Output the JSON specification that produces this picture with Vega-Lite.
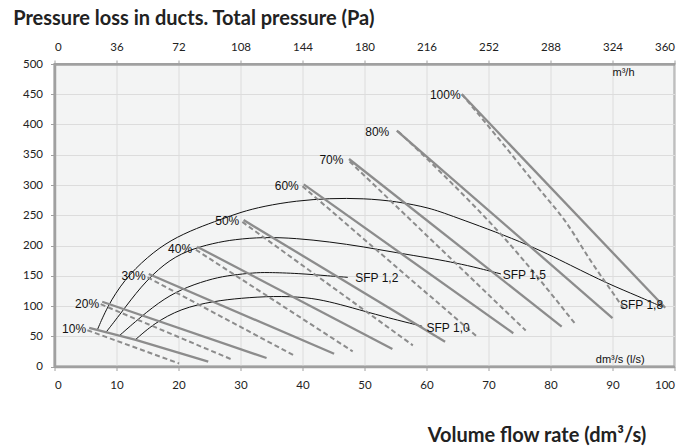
{
  "$schema": "https://vega.github.io/schema/vega-lite/v6.json",
  "width": 620,
  "height": 302.5,
  "autosize": "none",
  "padding": {"left": 54.5, "top": 64, "right": 24.5, "bottom": 79.5},
  "background": "white",
  "config": {
    "view": {"fill": "#f3f4f4", "stroke": "#a0a0a0", "strokeWidth": 2},
    "axis": {
      "domainColor": "#a0a0a0", "domainWidth": 2.5,
      "tickColor": "#a0a0a0", "tickSize": 4,
      "labelFont": "Lato", "labelFontSize": 11.5, "labelColor": "#222",
      "gridColor": "#dcdcdc", "gridWidth": 1,
      "titleFont": "Lato", "titleFontWeight": "bold", "titleColor": "#222"
    }
  },
  "datasets": {
    "lines": [
      {"s": "10%", "k": "solid", "x": 5.6, "y": 64}, {"s": "10%", "k": "solid", "x": 13.1, "y": 44}, {"s": "10%", "k": "solid", "x": 24.8, "y": 8},
      {"s": "20%", "k": "solid", "x": 7.7, "y": 107}, {"s": "20%", "k": "solid", "x": 34.2, "y": 14},
      {"s": "30%", "k": "solid", "x": 15.2, "y": 153}, {"s": "30%", "k": "solid", "x": 45.1, "y": 21},
      {"s": "40%", "k": "solid", "x": 23.0, "y": 198}, {"s": "40%", "k": "solid", "x": 54.5, "y": 29},
      {"s": "50%", "k": "solid", "x": 30.5, "y": 242}, {"s": "50%", "k": "solid", "x": 63.0, "y": 41},
      {"s": "60%", "k": "solid", "x": 40.2, "y": 301}, {"s": "60%", "k": "solid", "x": 74.0, "y": 55},
      {"s": "70%", "k": "solid", "x": 47.5, "y": 343}, {"s": "70%", "k": "solid", "x": 81.8, "y": 66},
      {"s": "80%", "k": "solid", "x": 55.2, "y": 390}, {"s": "80%", "k": "solid", "x": 90.0, "y": 80},
      {"s": "100%", "k": "solid", "x": 65.7, "y": 450}, {"s": "100%", "k": "solid", "x": 98.5, "y": 97},
      {"s": "10%", "k": "dash", "x": 5.3, "y": 60}, {"s": "10%", "k": "dash", "x": 20.1, "y": 5},
      {"s": "20%", "k": "dash", "x": 7.45, "y": 103}, {"s": "20%", "k": "dash", "x": 28.5, "y": 12},
      {"s": "30%", "k": "dash", "x": 15.0, "y": 147.5}, {"s": "30%", "k": "dash", "x": 38.5, "y": 19},
      {"s": "40%", "k": "dash", "x": 22.8, "y": 193}, {"s": "40%", "k": "dash", "x": 48.1, "y": 25},
      {"s": "50%", "k": "dash", "x": 30.3, "y": 239}, {"s": "50%", "k": "dash", "x": 57.8, "y": 35},
      {"s": "60%", "k": "dash", "x": 40.0, "y": 298}, {"s": "60%", "k": "dash", "x": 68.1, "y": 50},
      {"s": "70%", "k": "dash", "x": 47.6, "y": 339}, {"s": "70%", "k": "dash", "x": 76.0, "y": 59.5},
      {"s": "80%", "k": "dash", "x": 55.4, "y": 389}, {"s": "80%", "k": "dash", "x": 62.2, "y": 322}, {"s": "80%", "k": "dash", "x": 73.0, "y": 207}, {"s": "80%", "k": "dash", "x": 83.9, "y": 71.5},
      {"s": "100%", "k": "dash", "x": 65.7, "y": 450}, {"s": "100%", "k": "dash", "x": 72.0, "y": 372}, {"s": "100%", "k": "dash", "x": 78.3, "y": 292}, {"s": "100%", "k": "dash", "x": 82.6, "y": 237}, {"s": "100%", "k": "dash", "x": 86.4, "y": 176}, {"s": "100%", "k": "dash", "x": 90.1, "y": 121}, {"s": "100%", "k": "dash", "x": 92.0, "y": 93},
      {"s": "SFP 1,8", "k": "sfp", "x": 6.9, "y": 60.3}, {"s": "SFP 1,8", "k": "sfp", "x": 8.5, "y": 98.8}, {"s": "SFP 1,8", "k": "sfp", "x": 11.2, "y": 143}, {"s": "SFP 1,8", "k": "sfp", "x": 15.0, "y": 181.5}, {"s": "SFP 1,8", "k": "sfp", "x": 18.7, "y": 209}, {"s": "SFP 1,8", "k": "sfp", "x": 23.0, "y": 229}, {"s": "SFP 1,8", "k": "sfp", "x": 26.8, "y": 243}, {"s": "SFP 1,8", "k": "sfp", "x": 30.0, "y": 255}, {"s": "SFP 1,8", "k": "sfp", "x": 33.7, "y": 265}, {"s": "SFP 1,8", "k": "sfp", "x": 39.0, "y": 274}, {"s": "SFP 1,8", "k": "sfp", "x": 44.4, "y": 278}, {"s": "SFP 1,8", "k": "sfp", "x": 49.8, "y": 278}, {"s": "SFP 1,8", "k": "sfp", "x": 55.2, "y": 273}, {"s": "SFP 1,8", "k": "sfp", "x": 60.6, "y": 262}, {"s": "SFP 1,8", "k": "sfp", "x": 63.8, "y": 250}, {"s": "SFP 1,8", "k": "sfp", "x": 75.6, "y": 206}, {"s": "SFP 1,8", "k": "sfp", "x": 83.7, "y": 165}, {"s": "SFP 1,8", "k": "sfp", "x": 89.1, "y": 137.5}, {"s": "SFP 1,8", "k": "sfp", "x": 94.4, "y": 115}, {"s": "SFP 1,8", "k": "sfp", "x": 97.9, "y": 99},
      {"s": "SFP 1,5", "k": "sfp", "x": 8.3, "y": 56.5}, {"s": "SFP 1,5", "k": "sfp", "x": 10.7, "y": 88}, {"s": "SFP 1,5", "k": "sfp", "x": 13.9, "y": 132}, {"s": "SFP 1,5", "k": "sfp", "x": 17.7, "y": 170.6}, {"s": "SFP 1,5", "k": "sfp", "x": 21.4, "y": 192}, {"s": "SFP 1,5", "k": "sfp", "x": 25.7, "y": 204}, {"s": "SFP 1,5", "k": "sfp", "x": 29.0, "y": 210}, {"s": "SFP 1,5", "k": "sfp", "x": 33.7, "y": 214}, {"s": "SFP 1,5", "k": "sfp", "x": 39.0, "y": 212}, {"s": "SFP 1,5", "k": "sfp", "x": 44.4, "y": 206}, {"s": "SFP 1,5", "k": "sfp", "x": 49.8, "y": 198}, {"s": "SFP 1,5", "k": "sfp", "x": 55.2, "y": 188}, {"s": "SFP 1,5", "k": "sfp", "x": 60.6, "y": 179}, {"s": "SFP 1,5", "k": "sfp", "x": 63.8, "y": 173}, {"s": "SFP 1,5", "k": "sfp", "x": 67.5, "y": 165}, {"s": "SFP 1,5", "k": "sfp", "x": 72.0, "y": 153},
      {"s": "SFP 1,2", "k": "sfp", "x": 10.4, "y": 50.4}, {"s": "SFP 1,2", "k": "sfp", "x": 13.9, "y": 82}, {"s": "SFP 1,2", "k": "sfp", "x": 17.7, "y": 112.7}, {"s": "SFP 1,2", "k": "sfp", "x": 21.4, "y": 132}, {"s": "SFP 1,2", "k": "sfp", "x": 25.7, "y": 146}, {"s": "SFP 1,2", "k": "sfp", "x": 28.5, "y": 151}, {"s": "SFP 1,2", "k": "sfp", "x": 32.2, "y": 155}, {"s": "SFP 1,2", "k": "sfp", "x": 34.2, "y": 155.6}, {"s": "SFP 1,2", "k": "sfp", "x": 39.3, "y": 154}, {"s": "SFP 1,2", "k": "sfp", "x": 44.4, "y": 149.6}, {"s": "SFP 1,2", "k": "sfp", "x": 47.3, "y": 147.4},
      {"s": "SFP 1,0", "k": "sfp", "x": 13.0, "y": 43.8}, {"s": "SFP 1,0", "k": "sfp", "x": 16.0, "y": 71}, {"s": "SFP 1,0", "k": "sfp", "x": 20.4, "y": 96}, {"s": "SFP 1,0", "k": "sfp", "x": 25.7, "y": 108}, {"s": "SFP 1,0", "k": "sfp", "x": 30.0, "y": 113}, {"s": "SFP 1,0", "k": "sfp", "x": 35.3, "y": 116.5}, {"s": "SFP 1,0", "k": "sfp", "x": 40.7, "y": 114.6}, {"s": "SFP 1,0", "k": "sfp", "x": 44.4, "y": 107}, {"s": "SFP 1,0", "k": "sfp", "x": 47.7, "y": 98}, {"s": "SFP 1,0", "k": "sfp", "x": 53.0, "y": 82.6}, {"s": "SFP 1,0", "k": "sfp", "x": 59.3, "y": 66.5}
    ],
    "labels": [
      {"t": "10%", "k": "pct", "x": 5.1, "y": 61.5},
      {"t": "20%", "k": "pct", "x": 7.2, "y": 104},
      {"t": "30%", "k": "pct", "x": 14.7, "y": 149},
      {"t": "40%", "k": "pct", "x": 22.2, "y": 195},
      {"t": "50%", "k": "pct", "x": 29.8, "y": 240},
      {"t": "60%", "k": "pct", "x": 39.4, "y": 299},
      {"t": "70%", "k": "pct", "x": 46.6, "y": 341},
      {"t": "80%", "k": "pct", "x": 54.0, "y": 388},
      {"t": "100%", "k": "pct", "x": 65.5, "y": 449},
      {"t": "SFP 1,2", "k": "sfp", "x": 48.5, "y": 147},
      {"t": "SFP 1,0", "k": "sfp", "x": 60.0, "y": 63},
      {"t": "SFP 1,5", "k": "sfp", "x": 72.3, "y": 151},
      {"t": "SFP 1,8", "k": "sfp", "x": 91.2, "y": 101},
      {"t": "m³/h", "k": "unit", "x": 90.0, "y": 485},
      {"t": "dm³/s (l/s)", "k": "unit", "x": 87.3, "y": 10.7}
    ]
  },
  "encoding": {
    "y": {"field": "y", "type": "quantitative", "scale": {"domain": [0, 500], "nice": false},
      "axis": {"values": [0, 50, 100, 150, 200, 250, 300, 350, 400, 450, 500], "grid": true, "labelPadding": 8,
        "title": "Pressure loss in ducts. Total pressure (Pa)", "titleFontSize": 20, "titleAngle": 0, "titleAlign": "left", "titleBaseline": "middle", "titleX": -41.8, "titleY": -46}}
  },
  "layer": [
    {
      "data": {"name": "lines"},
      "transform": [{"filter": "datum.k === 'sfp'"}],
      "mark": {"type": "line", "color": "#111", "strokeWidth": 1, "interpolate": "basis"},
      "encoding": {
        "x": {"field": "x", "type": "quantitative", "scale": {"domain": [0, 100], "nice": false},
          "axis": {"orient": "bottom", "values": [0, 10, 20, 30, 40, 50, 60, 70, 80, 90, 100], "grid": true, "labelPadding": 9,
            "title": "Volume flow rate (dm³/s)", "titleFontSize": 20, "titleX": 482, "titleY": 68.5, "titleAlign": "center", "titleBaseline": "middle"}},
        "detail": {"field": "s"}
      }
    },
    {
      "data": {"name": "lines"},
      "transform": [{"filter": "datum.k === 'dash'"}],
      "mark": {"type": "line", "color": "#8c8c8c", "strokeWidth": 2, "strokeDash": [5, 3], "interpolate": "monotone"},
      "encoding": {
        "x": {"field": "x", "type": "quantitative",
          "axis": {"orient": "top", "values": [0, 10, 20, 30, 40, 50, 60, 70, 80, 90, 100], "grid": false, "labelPadding": 8, "labelExpr": "round(datum.value * 3.6)", "title": null}},
        "detail": {"field": "s"}
      }
    },
    {
      "data": {"name": "lines"},
      "transform": [{"filter": "datum.k === 'solid'"}],
      "mark": {"type": "line", "color": "#8c8c8c", "strokeWidth": 2.3},
      "encoding": {
        "x": {"field": "x", "type": "quantitative", "axis": null},
        "detail": {"field": "s"}
      }
    },
    {
      "data": {"name": "labels"},
      "transform": [{"filter": "datum.k === 'pct'"}],
      "mark": {"type": "text", "align": "right", "baseline": "middle", "font": "Liberation Sans", "fontSize": 12, "color": "#111"},
      "encoding": {
        "x": {"field": "x", "type": "quantitative", "axis": null},
        "text": {"field": "t"}
      }
    },
    {
      "data": {"name": "labels"},
      "transform": [{"filter": "datum.k !== 'pct'"}],
      "mark": {"type": "text", "align": "left", "baseline": "middle", "font": "Liberation Sans", "fontSize": 12, "color": "#111"},
      "encoding": {
        "x": {"field": "x", "type": "quantitative", "axis": null},
        "text": {"field": "t"},
        "size": {"condition": {"test": "datum.k === 'unit'", "value": 11}, "value": 12}
      }
    }
  ],
  "resolve": {"axis": {"x": "independent"}}
}
